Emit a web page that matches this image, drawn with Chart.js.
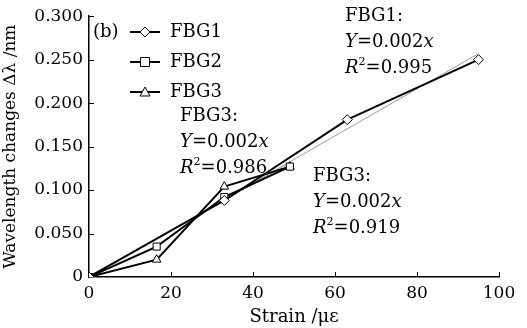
<!DOCTYPE html>
<html>
<head>
<meta charset="utf-8">
<script src="https://cdn.jsdelivr.net/npm/chart.js@4"></script>
<style>
  html, body { margin: 0; padding: 0; background: #fff; }
  #wrap { width: 527px; height: 328px; }
</style>
</head>
<body>
<div id="wrap"><canvas id="strainChart" width="527" height="328"></canvas></div>
<script>
// strain values (με) and wavelength shifts (nm)
const fbg1Strain = [0, 33, 63, 95];
const fbg1Shift = [0, 0.088, 0.181, 0.250];
const fbg2Strain = [0, 16.5, 33, 49];
const fbg2Shift = [0, 0.035, 0.092, 0.127];
const fbg3Strain = [0, 16.5, 33, 49];
const fbg3Shift = [0, 0.020, 0.104, 0.127];
// linear fit lines
const fit1Strain = [0, 95];
const fit1Shift = [0, 0.257];
const fit3Strain = [0, 49];
const fit3Shift = [0, 0.131];

const xTicks = [0, 20, 40, 60, 80, 100];
const yTicks = [0, 0.05, 0.10, 0.15, 0.20, 0.25, 0.30];

const FONT = 'DejaVu Serif';

function pts(xs, ys) {
    return xs.map((x, i) => ({ x: x, y: ys[i] }));
}

// inward tick marks on both axes
const innerTicks = {
    id: 'innerTicks',
    afterDraw(chart) {
        const ctx = chart.ctx;
        const xs = chart.scales.x, ys = chart.scales.y;
        const a = chart.chartArea;
        ctx.save();
        ctx.strokeStyle = '#000';
        ctx.lineWidth = 1;
        ctx.beginPath();
        xTicks.slice(1).forEach(v => {
            const px = Math.round(xs.getPixelForValue(v)) + 0.5;
            ctx.moveTo(px, a.bottom);
            ctx.lineTo(px, a.bottom - 5);
        });
        yTicks.slice(1).forEach(v => {
            const py = Math.round(ys.getPixelForValue(v)) + 0.5;
            ctx.moveTo(a.left, py);
            ctx.lineTo(a.left + 5, py);
        });
        ctx.stroke();
        ctx.restore();
    }
};

// text parts: [text, italic?, superscript?]
function drawRich(ctx, parts, x, y, size) {
    let cx = x;
    parts.forEach(p => {
        const sz = p[2] ? Math.round(size * 0.6) : size;
        ctx.font = (p[1] ? 'italic ' : '') + sz + 'px "' + FONT + '"';
        ctx.fillText(p[0], cx, p[2] ? y - size * 0.35 : y);
        cx += ctx.measureText(p[0]).width;
    });
}

function drawFit(ctx, x, y, name, r2) {
    const gap = 26;
    drawRich(ctx, [[name + ':', false]], x, y, 18);
    drawRich(ctx, [['Y', true], ['=0.002', false], ['x', true]], x, y + gap, 18);
    drawRich(ctx, [['R', true], ['2', false, true], ['=' + r2, false]], x, y + gap * 2, 18);
}

const legendAndNotes = {
    id: 'legendAndNotes',
    afterDraw(chart) {
        const ctx = chart.ctx;
        ctx.save();
        ctx.fillStyle = '#000';
        ctx.textBaseline = 'middle';
        ctx.textAlign = 'left';
        ctx.font = '18px "' + FONT + '"';
        ctx.fillText('(b)', 93, 32);

        const rows = [
            { y: 32, label: 'FBG1', shape: 'diamond' },
            { y: 62, label: 'FBG2', shape: 'square' },
            { y: 92, label: 'FBG3', shape: 'triangle' }
        ];
        rows.forEach(r => {
            ctx.strokeStyle = '#000';
            ctx.lineWidth = 2;
            ctx.beginPath();
            ctx.moveTo(130, r.y);
            ctx.lineTo(160, r.y);
            ctx.stroke();
            ctx.fillStyle = '#fff';
            ctx.lineWidth = 1;
            ctx.beginPath();
            if (r.shape === 'diamond') {
                ctx.moveTo(145, r.y - 5); ctx.lineTo(150, r.y);
                ctx.lineTo(145, r.y + 5); ctx.lineTo(140, r.y);
            } else if (r.shape === 'square') {
                ctx.rect(140.5, r.y - 4.5, 9, 9);
            } else {
                ctx.moveTo(145, r.y - 5); ctx.lineTo(150, r.y + 4);
                ctx.lineTo(140, r.y + 4);
            }
            ctx.closePath();
            ctx.fill();
            ctx.stroke();
            ctx.fillStyle = '#000';
            ctx.font = '18px "' + FONT + '"';
            ctx.fillText(r.label, 170, r.y);
        });

        drawFit(ctx, 345, 16, 'FBG1', '0.995');
        drawFit(ctx, 180, 116, 'FBG3', '0.986');
        drawFit(ctx, 313, 176, 'FBG3', '0.919');
        ctx.restore();
    }
};

function lineSet(label, data, style) {
    return {
        label: label,
        data: data,
        borderColor: '#000',
        borderWidth: 2,
        pointStyle: style,
        pointRadius: 5,
        pointBackgroundColor: '#fff',
        pointBorderColor: '#000',
        pointBorderWidth: 1,
        tension: 0,
        order: 1
    };
}

new Chart(document.getElementById('strainChart'), {
    type: 'line',
    data: {
        datasets: [
            {
                label: 'fit1',
                data: pts(fit1Strain, fit1Shift),
                borderColor: '#9a9a9a',
                borderWidth: 1,
                pointRadius: 0,
                order: 3
            },
            {
                label: 'fit3',
                data: pts(fit3Strain, fit3Shift),
                borderColor: '#555',
                borderWidth: 1,
                borderDash: [2, 2],
                pointRadius: 0,
                order: 3
            },
            lineSet('FBG1', pts(fbg1Strain, fbg1Shift), 'rectRot'),
            lineSet('FBG2', pts(fbg2Strain, fbg2Shift), 'rect'),
            lineSet('FBG3', pts(fbg3Strain, fbg3Shift), 'triangle')
        ]
    },
    options: {
        responsive: false,
        animation: false,
        layout: { padding: { top: 16, right: 28, bottom: 0, left: 0 } },
        plugins: {
            legend: { display: false },
            tooltip: { enabled: false }
        },
        scales: {
            x: {
                type: 'linear',
                min: 0,
                max: 100,
                afterFit(scale) { scale.height = 51; },
                afterBuildTicks(scale) { scale.ticks = xTicks.map(v => ({ value: v })); },
                grid: { display: false, drawTicks: false },
                border: { display: true, color: '#000', width: 1.5 },
                ticks: {
                    color: '#000',
                    padding: 6,
                    font: { family: FONT, size: 17 },
                    maxRotation: 0
                },
                title: {
                    display: true,
                    text: 'Strain /με',
                    color: '#000',
                    font: { family: FONT, size: 18 },
                    padding: { top: 0, bottom: 0 }
                }
            },
            y: {
                min: 0,
                max: 0.3,
                afterFit(scale) { scale.width = 89; },
                afterBuildTicks(scale) { scale.ticks = yTicks.map(v => ({ value: v })); },
                grid: { display: false, drawTicks: false },
                border: { display: true, color: '#000', width: 1.5 },
                ticks: {
                    color: '#000',
                    padding: 6,
                    font: { family: FONT, size: 17 },
                    callback: v => v === 0 ? '0' : v.toFixed(3)
                },
                title: {
                    display: true,
                    text: 'Wavelength changes Δλ /nm',
                    color: '#000',
                    font: { family: FONT, size: 17 },
                    padding: { top: 0, bottom: 0 }
                }
            }
        }
    },
    plugins: [innerTicks, legendAndNotes]
});
</script>
</body>
</html>
